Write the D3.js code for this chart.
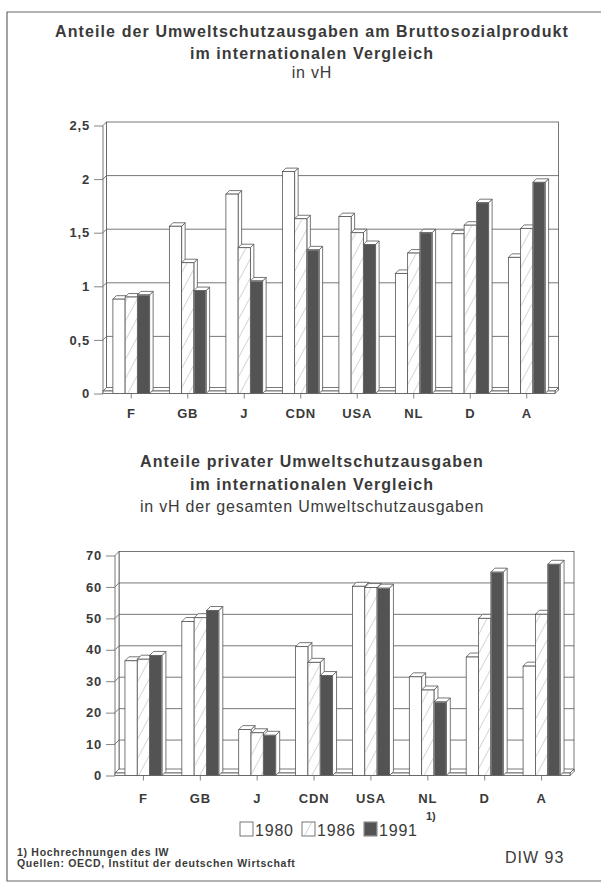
<!DOCTYPE html>
<html>
<head>
<meta charset="utf-8">
<script src="https://cdn.jsdelivr.net/npm/d3@7"></script>
<style>
  body { margin: 0; background: #fff; }
  text { font-family: "Liberation Sans", Arial, sans-serif; fill: #3a3a3a; }
</style>
</head>
<body>
<div id="chart"></div>
<script>
// Data
const countries = ["F", "GB", "J", "CDN", "USA", "NL", "D", "A"];
const years = ["1980", "1986", "1991"];

// share of environmental spending in GNP, in %
const bsp1980 = [0.88, 1.56, 1.86, 2.07, 1.65, 1.12, 1.49, 1.27];
const bsp1986 = [0.90, 1.22, 1.36, 1.63, 1.50, 1.31, 1.57, 1.54];
const bsp1991 = [0.92, 0.96, 1.05, 1.34, 1.39, 1.50, 1.78, 1.97];
const bspTicks = [0, 0.5, 1, 1.5, 2, 2.5];

// private share of total environmental spending, in %
const priv1980 = [36.5, 49.0, 14.6, 41.0, 60.2, 31.4, 37.7, 34.8];
const priv1986 = [37.0, 50.2, 13.6, 36.0, 59.8, 27.2, 50.0, 51.3];
const priv1991 = [38.2, 52.5, 12.8, 31.8, 59.6, 23.4, 64.7, 67.2];
const privTicks = [0, 10, 20, 30, 40, 50, 60, 70];

const width = 609, height = 889;
const line = "#555";

const svg = d3.select("#chart").append("svg")
    .attr("width", width)
    .attr("height", height)
    .attr("viewBox", [0, 0, width, height]);

// hatch for 1986
const defs = svg.append("defs");
defs.append("pattern")
    .attr("id", "hatch")
    .attr("patternUnits", "userSpaceOnUse")
    .attr("width", 9).attr("height", 9)
    .attr("patternTransform", "rotate(28)")
  .append("line")
    .attr("x1", 0).attr("y1", 0).attr("x2", 0).attr("y2", 9)
    .attr("stroke", "#8a8a8a").attr("stroke-width", 0.7);

const fills = ["#fff", "url(#hatch)", "#535353"];

// page frame (right edge is cut off in the scan)
svg.append("path")
    .attr("d", "M601,12 H7 V881 H601")
    .attr("fill", "none")
    .attr("stroke", "#666")
    .attr("stroke-width", 1.2);

function titleBlock(lines, cx) {
  lines.forEach(l => {
    svg.append("text")
        .attr("x", cx)
        .attr("y", l.y)
        .attr("text-anchor", "middle")
        .attr("font-size", "16px")
        .attr("font-weight", l.bold ? "bold" : "normal")
        .attr("letter-spacing", l.bold ? "1.1px" : "0.8px")
        .text(l.text);
  });
}

function pts(a) { return a.map(p => p.join(",")).join(" "); }

function drawChart(o) {
  const d = o.depth;
  const g = svg.append("g");

  const x = d3.scaleBand().domain(countries).range([o.x0, o.x1]);
  const bw = x.bandwidth();
  const xs = d3.scaleBand().domain(years).range([bw * 0.175, bw * 0.825]);
  const w = xs.bandwidth();
  const y = d3.scaleLinear().domain([0, o.max]).range([o.y0, o.yTop]);

  const stroke = s => s.attr("stroke", line).attr("stroke-width", 0.8);

  // back wall and left wall
  g.append("rect")
      .attr("x", o.x0 + d).attr("y", y(o.max) - d)
      .attr("width", o.x1 - o.x0).attr("height", y(0) - y(o.max))
      .attr("fill", "#fff").call(stroke);
  g.append("polygon")
      .attr("points", pts([[o.x0, y(0)], [o.x0, y(o.max)], [o.x0 + d, y(o.max) - d], [o.x0 + d, y(0) - d]]))
      .attr("fill", "#fff").call(stroke);

  // grid lines on the back wall
  const grid = o.ticks.filter(v => v > 0 && v < o.max);
  g.selectAll(".grid").data(grid).join("path")
      .attr("fill", "none")
      .attr("d", v => `M${o.x0},${y(v)} L${o.x0 + d},${y(v) - d} H${o.x1 + d}`)
      .call(stroke);

  // floor slab
  const fy = y(0) - 2.5;
  g.append("polygon")
      .attr("points", pts([[o.x0, fy], [o.x0 + d, fy - d], [o.x1 + d, fy - d], [o.x1, fy]]))
      .attr("fill", "#fff").call(stroke);
  g.append("polygon")
      .attr("points", pts([[o.x1, fy], [o.x1 + d, fy - d], [o.x1 + d, y(0) - d], [o.x1, y(0)]]))
      .attr("fill", "#fff").call(stroke);
  g.append("rect")
      .attr("x", o.x0).attr("y", fy).attr("width", o.x1 - o.x0).attr("height", 2.5)
      .attr("fill", "#fff").call(stroke);

  // bars, drawn left to right so each one hides its neighbour's side
  const bars = [];
  countries.forEach((c, i) => {
    years.forEach((yr, j) => {
      bars.push({ c, yr, j, v: o.series[j][i] });
    });
  });

  const bar = g.selectAll(".bar").data(bars).join("g").attr("class", "bar");
  bar.append("polygon")
      .attr("points", b => {
        const bx = x(b.c) + xs(b.yr) + w, top = y(b.v);
        return pts([[bx, top], [bx + d, top - d], [bx + d, y(0) - d], [bx, y(0)]]);
      })
      .attr("fill", "#fff").call(stroke);
  bar.append("polygon")
      .attr("points", b => {
        const bx = x(b.c) + xs(b.yr), top = y(b.v);
        return pts([[bx, top], [bx + d, top - d], [bx + w + d, top - d], [bx + w, top]]);
      })
      .attr("fill", "#fff").call(stroke);
  bar.append("rect")
      .attr("x", b => x(b.c) + xs(b.yr))
      .attr("y", b => y(b.v))
      .attr("width", w)
      .attr("height", b => y(0) - y(b.v))
      .attr("fill", "#fff")
      .call(stroke);
  bar.filter(b => b.j > 0).append("rect")
      .attr("x", b => x(b.c) + xs(b.yr) + 0.4)
      .attr("y", b => y(b.v) + 0.4)
      .attr("width", w - 0.8)
      .attr("height", b => Math.max(0, y(0) - y(b.v) - 0.8))
      .attr("fill", b => fills[b.j]);

  // axes
  const yAxis = g.append("g")
      .attr("transform", `translate(${o.x0},0)`)
      .call(d3.axisLeft(y).tickValues(o.ticks).tickFormat(o.fmt).tickSize(9).tickPadding(4));
  yAxis.select(".domain").remove();
  yAxis.selectAll("line").attr("stroke", "#666").attr("stroke-width", 0.8);
  yAxis.selectAll("text")
      .attr("font-size", "13px").attr("font-weight", "bold")
      .attr("letter-spacing", "0.8px")
      .attr("font-family", "Liberation Sans, Arial, sans-serif")
      .attr("fill", "#3a3a3a");

  const xAxis = g.append("g")
      .attr("transform", `translate(0,${y(0)})`)
      .call(d3.axisBottom(x).tickSize(5).tickPadding(o.labelPad));
  xAxis.select(".domain").remove();
  xAxis.selectAll("line").attr("stroke", "#666").attr("stroke-width", 0.8);
  xAxis.selectAll("text")
      .attr("font-size", "13px").attr("font-weight", "bold")
      .attr("letter-spacing", "0.8px")
      .attr("font-family", "Liberation Sans, Arial, sans-serif")
      .attr("fill", "#3a3a3a");
}

// upper chart
titleBlock([
  { text: "Anteile der Umweltschutzausgaben am Bruttosozialprodukt", y: 37, bold: true },
  { text: "im internationalen Vergleich", y: 59, bold: true },
  { text: "in vH", y: 78, bold: false }
], 312);

drawChart({
  x0: 103, x1: 555, y0: 393.5, yTop: 125.5, depth: 3.5, max: 2.5,
  ticks: bspTicks, fmt: v => String(v).replace(".", ","),
  series: [bsp1980, bsp1986, bsp1991], labelPad: 10
});

// lower chart
titleBlock([
  { text: "Anteile privater Umweltschutzausgaben", y: 467, bold: true },
  { text: "im internationalen Vergleich", y: 490, bold: true },
  { text: "in vH der gesamten Umweltschutzausgaben", y: 512, bold: false }
], 312);

drawChart({
  x0: 115, x1: 570, y0: 775.5, yTop: 555.5, depth: 4, max: 70,
  ticks: privTicks, fmt: v => String(v),
  series: [priv1980, priv1986, priv1991], labelPad: 13
});

// legend
const legend = svg.append("g").attr("transform", "translate(240,822)");
const lx = [0, 62, 124];
years.forEach((yr, j) => {
  legend.append("rect")
      .attr("x", lx[j]).attr("y", 0).attr("width", 13).attr("height", 14)
      .attr("fill", "#fff").attr("stroke", line).attr("stroke-width", 0.8);
  if (j > 0) {
    legend.append("rect")
        .attr("x", lx[j] + 0.4).attr("y", 0.4).attr("width", 12.2).attr("height", 13.2)
        .attr("fill", fills[j]);
  }
  legend.append("text")
      .attr("x", lx[j] + 15).attr("y", 13.5)
      .attr("font-size", "16px").attr("letter-spacing", "0.8px")
      .text(yr);
});
legend.append("text")
    .attr("x", 186).attr("y", -2)
    .attr("font-size", "11px").attr("font-weight", "bold")
    .text("1)");

// footnotes and source
svg.append("text")
    .attr("x", 17).attr("y", 856)
    .attr("font-size", "10.5px").attr("font-weight", "bold").attr("letter-spacing", "0.7px")
    .text("1) Hochrechnungen des IW");
svg.append("text")
    .attr("x", 17).attr("y", 867)
    .attr("font-size", "10.5px").attr("font-weight", "bold").attr("letter-spacing", "0.7px")
    .text("Quellen: OECD, Institut der deutschen Wirtschaft");
svg.append("text")
    .attr("x", 505).attr("y", 863)
    .attr("font-size", "16px").attr("letter-spacing", "1px")
    .text("DIW 93");
</script>
</body>
</html>
